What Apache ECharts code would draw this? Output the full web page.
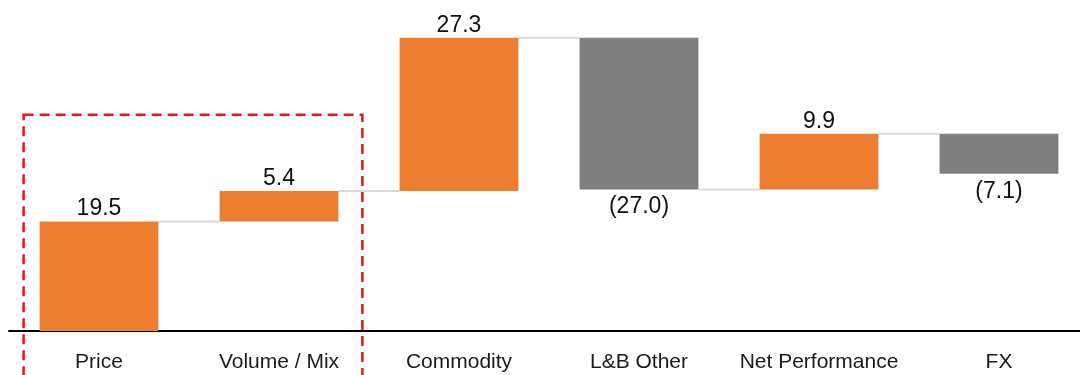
<!DOCTYPE html>
<html>
<head>
<meta charset="utf-8">
<script src="https://cdn.jsdelivr.net/npm/echarts@6/dist/echarts.min.js"></script>
<style>
  html, body { margin: 0; padding: 0; background: #ffffff; }
  #chart { width: 1080px; height: 375px; }
</style>
</head>
<body>
<div id="chart"></div>
<script>
// EBITDA bridge components
const categories = ['Price', 'Volume / Mix', 'Commodity', 'L&B Other', 'Net Performance', 'FX'];
const deltas = [19.5, 5.4, 27.3, -27.0, 9.9, -7.1];

const ORANGE = '#ED7D31';
const GREY = '#7F7F7F';

// running totals -> invisible base + visible step
const bases = [];
const steps = [];
const totals = [];
let run = 0;
deltas.forEach(function (d) {
  const next = run + d;
  bases.push(Math.min(run, next));
  steps.push(Math.abs(d));
  totals.push(next);
  run = next;
});

function fmt(v) {
  return v < 0 ? '(' + Math.abs(v).toFixed(1) + ')' : v.toFixed(1);
}

const chart = echarts.init(document.getElementById('chart'), null, { renderer: 'canvas' });

const BAR_RATIO = 0.66;
const FONT = 'Liberation Sans, Arial, sans-serif';

const option = {
  animation: false,
  grid: { left: 9, width: 1080, top: 22, bottom: 44, outerBoundsMode: 'none', containLabel: false },
  xAxis: {
    type: 'category',
    data: categories,
    axisLine: { lineStyle: { color: '#000000', width: 2 } },
    axisTick: { show: false },
    axisLabel: {
      color: '#1a1a1a',
      fontFamily: FONT,
      fontSize: 21,
      margin: 21,
      interval: 0
    }
  },
  yAxis: {
    type: 'value',
    min: 0,
    max: 55,
    show: false,
    splitLine: { show: false }
  },
  series: [
    {
      type: 'bar',
      stack: 'bridge',
      barWidth: (BAR_RATIO * 100) + '%',
      itemStyle: { color: 'transparent' },
      emphasis: { disabled: true },
      data: bases
    },
    {
      type: 'bar',
      stack: 'bridge',
      barWidth: (BAR_RATIO * 100) + '%',
      data: steps.map(function (s, i) {
        const neg = deltas[i] < 0;
        return {
          value: s,
          itemStyle: { color: neg ? GREY : ORANGE },
          label: {
            show: true,
            position: neg ? 'bottom' : 'top',
            distance: neg ? 6 : 1,
            formatter: fmt(deltas[i]),
            color: '#111111',
            fontFamily: FONT,
            fontSize: 23
          }
        };
      })
    },
    {
      // connectors between consecutive bars at the running total
      type: 'custom',
      silent: true,
      z: 1,
      data: totals.slice(0, -1).map(function (t, i) { return [i, t]; }),
      renderItem: function (params, api) {
        const p = api.coord([api.value(0), api.value(1)]);
        const band = api.size([1, 0])[0];
        const half = band * BAR_RATIO / 2;
        return {
          type: 'line',
          shape: { x1: p[0] + half, y1: p[1], x2: p[0] + band - half, y2: p[1] },
          style: { stroke: '#d9d9d9', lineWidth: 2 }
        };
      }
    }
  ]
};

chart.setOption(option);

// dashed highlight box around the first two drivers
const leftPt = chart.convertToPixel({ xAxisIndex: 0, yAxisIndex: 0 }, [0, 38.5]);
const rightPt = chart.convertToPixel({ xAxisIndex: 0, yAxisIndex: 0 }, [1, 38.5]);
const bandW = rightPt[0] - leftPt[0];
const halfBar = bandW * BAR_RATIO / 2;
chart.setOption({
  graphic: [{
    type: 'rect',
    z: 100,
    shape: {
      x: leftPt[0] - halfBar - 16,
      y: leftPt[1],
      width: (rightPt[0] + halfBar + 24) - (leftPt[0] - halfBar - 16),
      height: 400
    },
    style: {
      fill: 'none',
      stroke: '#E8161B',
      lineWidth: 2.5,
      lineDash: [10, 6]
    }
  }]
});
</script>
</body>
</html>
